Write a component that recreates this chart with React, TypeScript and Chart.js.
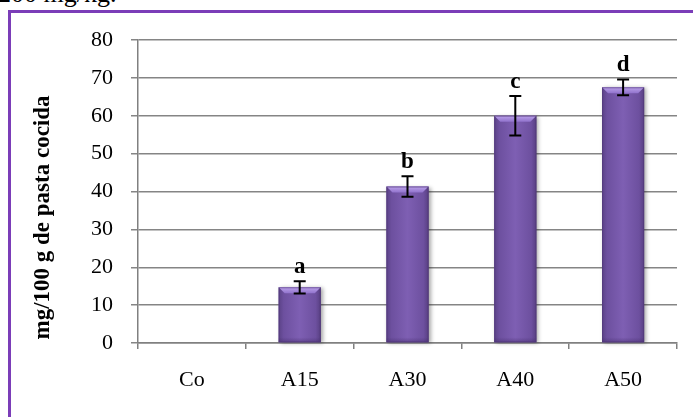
import React, { useEffect, useRef } from "react";
import { Chart, registerables } from "chart.js";

Chart.register(...registerables);

const categories = ["Co", "A15", "A30", "A40", "A50"];
const means = [0, 14.7, 41.3, 60.0, 67.5];
const errors = [0, 1.6, 2.7, 5.2, 2.1];
const letters = ["", "a", "b", "c", "d"];
const yMin = 0;
const yMax = 80;
const yStep = 10;
const yTitle = "mg/100 g de pasta cocida";

const SERIF = '"Liberation Serif", "Times New Roman", serif';

const barStylePlugin = {
  id: "barStyle",
  afterDatasetsDraw(chart: any) {
    const ctx = chart.ctx;
    const meta = chart.getDatasetMeta(0);
    meta.data.forEach((el: any) => {
      const { x, y, base, width } = el.getProps(["x", "y", "base", "width"], true);
      const h = base - y;
      if (h < 1) return;
      const l = x - width / 2;
      const r = x + width / 2;
      ctx.save();
      ctx.shadowColor = "rgba(0,0,0,0.35)";
      ctx.shadowBlur = 4;
      ctx.shadowOffsetX = 2;
      ctx.shadowOffsetY = 1;
      const g = ctx.createLinearGradient(l, 0, r, 0);
      g.addColorStop(0, "#5b4287");
      g.addColorStop(0.12, "#6d509f");
      g.addColorStop(0.5, "#7e5fb3");
      g.addColorStop(0.88, "#6d509f");
      g.addColorStop(1, "#583f82");
      ctx.fillStyle = g;
      ctx.fillRect(l, y, width, h);
      ctx.restore();
      ctx.save();
      const b = Math.min(6, h / 2);
      const tg = ctx.createLinearGradient(0, y, 0, y + b);
      tg.addColorStop(0, "#bca2ea");
      tg.addColorStop(1, "#9072cc");
      ctx.fillStyle = tg;
      ctx.beginPath();
      ctx.moveTo(l, y);
      ctx.lineTo(r, y);
      ctx.lineTo(r - b, y + b);
      ctx.lineTo(l + b, y + b);
      ctx.closePath();
      ctx.fill();
      const bg = ctx.createLinearGradient(0, base - 5, 0, base);
      bg.addColorStop(0, "rgba(70,45,110,0)");
      bg.addColorStop(1, "rgba(70,45,110,0.5)");
      ctx.fillStyle = bg;
      ctx.fillRect(l, base - 5, width, 5);
      ctx.strokeStyle = "rgba(80,55,120,0.6)";
      ctx.lineWidth = 1;
      ctx.strokeRect(l + 0.5, y + 0.5, width - 1, h - 1);
      ctx.restore();
    });
  },
  afterDraw(chart: any) {
    const ctx = chart.ctx;
    const ys = chart.scales.y;
    const meta = chart.getDatasetMeta(0);
    ctx.save();
    meta.data.forEach((el: any, i: number) => {
      const x = el.x;
      if (errors[i] > 0) {
        const top = ys.getPixelForValue(means[i] + errors[i]);
        const bot = ys.getPixelForValue(means[i] - errors[i]);
        ctx.strokeStyle = "#000";
        ctx.lineWidth = 2;
        ctx.beginPath();
        ctx.moveTo(x, top);
        ctx.lineTo(x, bot);
        ctx.moveTo(x - 6, top);
        ctx.lineTo(x + 6, top);
        ctx.moveTo(x - 6, bot);
        ctx.lineTo(x + 6, bot);
        ctx.stroke();
      }
      if (letters[i]) {
        const top = ys.getPixelForValue(means[i] + errors[i]);
        ctx.fillStyle = "#000";
        ctx.font = `bold 23px ${SERIF}`;
        ctx.textAlign = "center";
        ctx.textBaseline = "alphabetic";
        ctx.fillText(letters[i], x, top - 8);
      }
    });
    ctx.translate(43, (ys.top + ys.bottom) / 2 + 26);
    ctx.rotate(-Math.PI / 2);
    ctx.font = `bold 23px ${SERIF}`;
    ctx.fillStyle = "#000";
    ctx.textAlign = "center";
    ctx.textBaseline = "middle";
    ctx.fillText(yTitle, 0, 0);
    ctx.restore();
  },
};

export default function App() {
  const ref = useRef<HTMLCanvasElement>(null);
  useEffect(() => {
    if (!ref.current) return;
    const chart = new Chart(ref.current, {
      type: "bar",
      data: {
        labels: categories,
        datasets: [
          {
            data: means,
            backgroundColor: "#7459a3",
            borderWidth: 0,
            categoryPercentage: 1,
            barPercentage: 0.39,
          },
        ],
      },
      options: {
        animation: false,
        responsive: false,
        maintainAspectRatio: false,
        layout: { padding: { top: 40, right: 16, left: 0, bottom: 0 } },
        plugins: { legend: { display: false }, tooltip: { enabled: false } },
        scales: {
          x: {
            offset: true,
            grid: {
              offset: true,
              drawOnChartArea: false,
              drawTicks: true,
              tickLength: 6,
              color: "#808080",
              lineWidth: 1.5,
            },
            border: { display: true, color: "#808080", width: 1.5 },
            ticks: {
              color: "#000",
              font: { family: SERIF, size: 22 },
              padding: 18,
              maxRotation: 0,
            },
            afterFit(scale: any) {
              scale.height = 74;
            },
          },
          y: {
            min: yMin,
            max: yMax,
            ticks: {
              stepSize: yStep,
              color: "#000",
              font: { family: SERIF, size: 22 },
              padding: 18,
            },
            grid: {
              color: "#858585",
              lineWidth: 1.5,
              tickLength: 7,
              drawTicks: true,
            },
            border: { display: true, color: "#808080", width: 1.5 },
            afterFit(scale: any) {
              scale.width = 138;
            },
          },
        },
      },
      plugins: [barStylePlugin],
    });
    return () => chart.destroy();
  }, []);

  return (
    <div
      style={{
        position: "fixed",
        left: 0,
        top: 0,
        width: 693,
        height: 417,
        overflow: "hidden",
        background: "#fff",
      }}
    >
      <div
        style={{
          position: "absolute",
          left: -2,
          top: -19,
          fontFamily: SERIF,
          fontSize: 26,
          lineHeight: "26px",
          whiteSpace: "nowrap",
          color: "#000",
        }}
      >
        200 mg/kg.
      </div>
      <div
        style={{
          position: "absolute",
          left: 8,
          top: 10,
          width: 740,
          height: 460,
          border: "3px solid #7b3db8",
        }}
      />
      <canvas
        ref={ref}
        width={693}
        height={417}
        style={{ position: "absolute", left: 0, top: 0, width: 693, height: 417 }}
      />
    </div>
  );
}
